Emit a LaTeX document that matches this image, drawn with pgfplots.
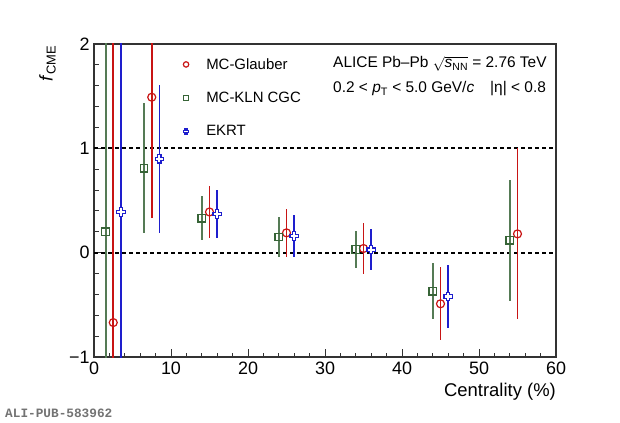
\documentclass[border=0pt]{standalone}
\usepackage{fontspec}
\setmainfont{Liberation Sans}
\newfontfamily\monofont{Liberation Mono}
\usepackage{pgfplots}
\pgfplotsset{compat=1.18}
\definecolor{cg}{RGB}{55,100,55}
\definecolor{cr}{RGB}{200,20,20}
\definecolor{cb}{RGB}{30,30,205}
\makeatletter
\pgfdeclareplotmark{ocross}{%
  \pgfpathmoveto{\pgfpoint{0.38\pgfplotmarksize}{\pgfplotmarksize}}%
  \pgfpathlineto{\pgfpoint{0.38\pgfplotmarksize}{0.38\pgfplotmarksize}}%
  \pgfpathlineto{\pgfpoint{\pgfplotmarksize}{0.38\pgfplotmarksize}}%
  \pgfpathlineto{\pgfpoint{\pgfplotmarksize}{-0.38\pgfplotmarksize}}%
  \pgfpathlineto{\pgfpoint{0.38\pgfplotmarksize}{-0.38\pgfplotmarksize}}%
  \pgfpathlineto{\pgfpoint{0.38\pgfplotmarksize}{-\pgfplotmarksize}}%
  \pgfpathlineto{\pgfpoint{-0.38\pgfplotmarksize}{-\pgfplotmarksize}}%
  \pgfpathlineto{\pgfpoint{-0.38\pgfplotmarksize}{-0.38\pgfplotmarksize}}%
  \pgfpathlineto{\pgfpoint{-\pgfplotmarksize}{-0.38\pgfplotmarksize}}%
  \pgfpathlineto{\pgfpoint{-\pgfplotmarksize}{0.38\pgfplotmarksize}}%
  \pgfpathlineto{\pgfpoint{-0.38\pgfplotmarksize}{0.38\pgfplotmarksize}}%
  \pgfpathlineto{\pgfpoint{-0.38\pgfplotmarksize}{\pgfplotmarksize}}%
  \pgfpathclose
  \pgfusepathqfillstroke
}
\makeatother
\begin{document}
\begin{tikzpicture}
\begin{axis}[
  name=ax,
  scale only axis,
  width=462bp, height=313bp,
  xmin=0, xmax=60, ymin=-1, ymax=2,
  clip bounding box=upper bound,
  axis line style={line width=1.1bp, black!80},
  tick align=inside,
  xtick pos=lower, ytick pos=left,
  xtick={0,10,...,60},
  ytick={-1,0,1,2},
  yticklabels={−1,0,1,2},
  minor x tick num=4, minor y tick num=4,
  major tick length=8bp, minor tick length=4.5bp,
  tick style={line width=0.9bp, black!80},
  /pgf/number format/assume math mode=true,
  tick label style={font=\fontsize{18}{20}\selectfont},
  xticklabel style={yshift=-1bp},
  yticklabel style={xshift=-1bp},
  error bars/y dir=both, error bars/y explicit,
  error bars/error mark=none,
  legend style={
    draw=none, fill=none,
    at={(rel axis cs:0.193,0.955)}, anchor=north west,
    inner xsep=0pt, inner ysep=0pt,
    cells={anchor=west},
    nodes={inner sep=0pt},
    row sep=21.5bp,
    font=\fontsize{15}{17}\selectfont,
    /tikz/every odd column/.append style={column sep=17.5bp},
  },
  legend image post style={mark size=2.7bp},
]
\addplot[black, line width=1.8bp, dash pattern=on 4bp off 3bp, forget plot] coordinates {(0,1) (60,1)};
\addplot[black, line width=1.8bp, dash pattern=on 4bp off 3bp, forget plot] coordinates {(0,0) (60,0)};

\addplot[only marks, mark=o, mark size=4bp, draw=cr, line width=1.2bp,
  mark options={fill=white, draw=cr, solid},
  error bars/error bar style={draw=cr, line width=1.9bp, solid}]
  table[x=x, y=y, y error=e] {
  x y e
  2.5 -0.67 3.0
  7.5 1.49 1.16
  15 0.39 0.25
  25 0.19 0.23
  35 0.04 0.24
  45 -0.49 0.35
  55 0.18 0.82
};
\addlegendentry{MC-Glauber}

\addplot[only marks, mark=square, mark size=3.8bp, draw=cg, line width=1.2bp,
  mark options={fill=white, draw=cg, solid},
  error bars/error bar style={draw=cg!85, line width=1.9bp, solid}]
  table[x=x, y=y, y error=e] {
  x y e
  1.5 0.20 2.8
  6.5 0.81 0.62
  14 0.33 0.21
  24 0.15 0.19
  34 0.03 0.18
  44 -0.37 0.27
  54 0.12 0.58
};
\addlegendentry{MC-KLN CGC}

\addplot[only marks, mark=ocross, mark size=4.3bp, draw=cb, line width=1.2bp,
  mark options={fill=white, draw=cb, solid},
  error bars/error bar style={draw=cb, line width=1.9bp, solid}]
  table[x=x, y=y, y error=e] {
  x y e
  3.5 0.39 2.8
  8.5 0.90 0.71
  16 0.37 0.23
  26 0.16 0.20
  36 0.03 0.20
  46 -0.42 0.30
};
\addlegendentry{EKRT}
\end{axis}
% bounding box 620x422
\path ([shift={(-94bp,-65bp)}]ax.south west) rectangle ([shift={(64bp,44bp)}]ax.north east);
% texts
\node[anchor=west, inner sep=0pt, font=\fontsize{15.5}{17}\selectfont] at ([shift={(239bp,-20bp)}]ax.north west)
  {ALICE Pb–Pb \(\sqrt{\mbox{\textit{s}}_{\mbox{\fontsize{10.5}{11}\selectfont NN}}}\) = 2.76 TeV};
\node[anchor=west, inner sep=0pt, font=\fontsize{15.5}{17}\selectfont] at ([shift={(239bp,-45bp)}]ax.north west)
  {0.2 < \textit{p}\textsubscript{T} < 5.0 GeV/\textit{c}\hspace{16bp}|η| < 0.8};
\node[anchor=east, inner sep=0pt, font=\fontsize{18.5}{20}\selectfont] at ([shift={(462bp,-348bp)}]ax.north west)
  {Centrality (\%)};
\node[rotate=90, anchor=south east, inner sep=0pt, font=\fontsize{18.5}{20}\selectfont] at ([shift={(-38bp,-1bp)}]ax.north west)
  {\textit{f}\textsubscript{CME}};
\node[anchor=west, inner sep=0pt, text=black!55, font=\monofont\bfseries\fontsize{12.8}{14}\selectfont] at ([shift={(-89bp,-369bp)}]ax.north west)
  {ALI-PUB-583962};
\end{tikzpicture}
\end{document}
